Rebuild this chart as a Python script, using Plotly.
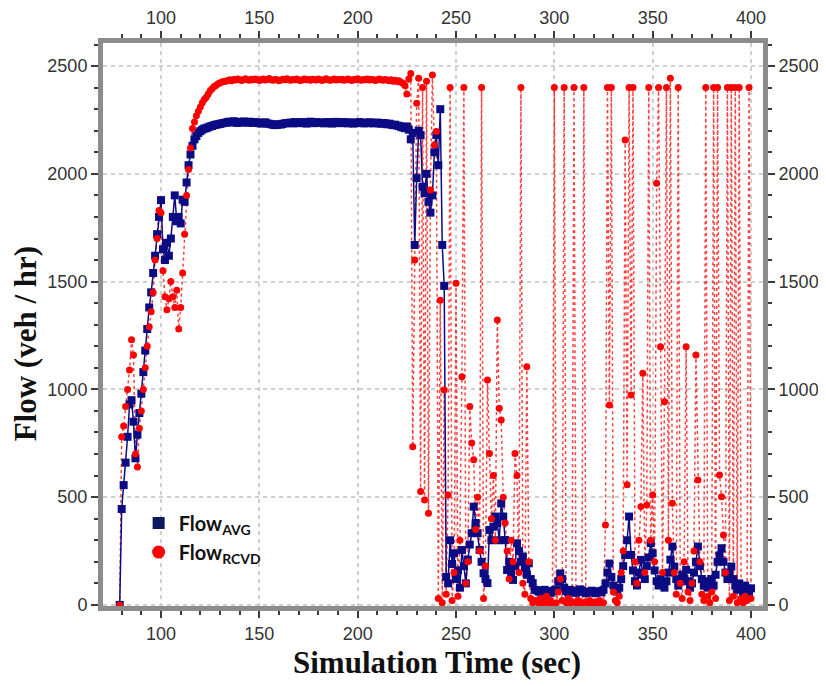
import plotly.graph_objects as go

# ---------------- data ----------------
t_start = 79
t_end = 400
time_sec = list(range(t_start, t_end + 1))

flow_avg = [
    # 79-88
    0, 445, 556, 660, 780, 930, 950, 850, 680, 790,
    # 89-98
    890, 980, 1080, 1180, 1280, 1380, 1450, 1540, 1620, 1720,
    # 99-108
    1800, 1878, 1650, 1600, 1680, 1620, 1700, 1800, 1900, 1780,
    # 109-118
    1800, 1770, 1880, 1870, 1960, 2040, 2090, 2130, 2160, 2175,
    # 119-128
    2190, 2198, 2205, 2210, 2212, 2216, 2220, 2222, 2226, 2228,
    # 129-130
    2230, 2232,
    # 131-220
    2234, 2236, 2238, 2240, 2242, 2238, 2244, 2240, 2236, 2241,
    2238, 2243, 2240, 2237, 2242, 2239, 2236, 2240, 2238, 2235,
    2233, 2237, 2239, 2234, 2232, 2230, 2228, 2226, 2228, 2230,
    2229, 2232, 2234, 2236, 2236, 2238, 2234, 2240, 2237, 2235,
    2238, 2240, 2236, 2233, 2239, 2242, 2238, 2235, 2240, 2237,
    2236, 2239, 2234, 2238, 2240, 2236, 2233, 2238, 2241, 2237,
    2235, 2238, 2240, 2236, 2234, 2239, 2237, 2233, 2236, 2238,
    2240, 2236, 2234, 2238, 2235, 2239, 2237, 2234, 2236, 2238,
    2235, 2232, 2236, 2234, 2230, 2233, 2229, 2226, 2228, 2224,
    # 221-224
    2222, 2218, 2215, 2212,
    # 225-244
    2220, 2205, 2160, 2190, 1670, 1980, 2200, 2180, 1940, 1910,
    2000, 1870, 1820, 1900, 2100, 2180, 2040, 2300, 1670, 1480,
    # 245-290
    130, 100, 300, 190, 240, 120, 160, 80, 255, 180,
    100, 210, 280, 333, 456, 380, 333, 255, 200, 147,
    120, 101, 348, 300, 363, 410, 380, 300, 471, 410,
    301, 162, 200, 150, 116, 180, 286, 250, 200, 224,
    170, 140, 193, 120, 101, 70,
    # 291-400
    68, 62, 58, 66, 70, 64, 60, 56, 62, 68,
    72, 110, 146, 120, 80, 64, 58, 70, 66, 60,
    56, 64, 72, 68, 60, 54, 58, 62, 66, 58,
    54, 60, 64, 58, 70, 100, 150, 192, 130, 90,
    70, 62, 80, 120, 180, 232, 300, 410, 232, 160,
    110, 90, 150, 209, 140, 120, 180, 220, 287, 240,
    160, 110, 90, 120, 100, 80, 110, 150, 210, 271,
    178, 120, 90, 110, 140, 120, 163, 110, 80, 100,
    150, 200, 271, 180, 120, 90, 110, 80, 100, 120,
    90, 140, 200, 230, 263, 200, 150, 120, 140, 178,
    120, 90, 70, 100, 80, 60, 90, 70, 60, 77,
]

flow_rcvd = [
    # 79-88
    0, 780, 830, 920, 1000, 1090, 1230, 1160, 700, 640,
    # 89-98
    820, 900, 1000, 1100, 1200, 1290, 1360, 1450, 1600, 1700,
    # 99-108
    1830, 1820, 1550, 1430, 1370, 1420, 1500, 1430, 1380, 1460,
    # 109-118
    1280, 1380, 1540, 1720, 1900, 2020, 2120, 2210, 2240, 2270,
    # 119-128
    2290, 2310, 2330, 2345, 2355, 2370, 2385, 2395, 2405, 2410,
    # 129-130
    2418, 2422,
    # 131-220
    2426, 2428, 2430, 2433, 2436, 2432, 2438, 2435, 2440, 2436,
    2433, 2438, 2441, 2436, 2434, 2439, 2436, 2440, 2437, 2433,
    2436, 2440, 2435, 2438, 2442, 2437, 2434, 2438, 2436, 2432,
    2435, 2439, 2436, 2441, 2437, 2434, 2438, 2436, 2440, 2435,
    2433, 2437, 2440, 2436, 2438, 2434, 2439, 2437, 2435, 2440,
    2436, 2433, 2438, 2441, 2436, 2434, 2437, 2440, 2435, 2438,
    2436, 2439, 2434, 2437, 2440, 2436, 2433, 2438, 2436, 2441,
    2437, 2434, 2438, 2436, 2440, 2435, 2438, 2436, 2433, 2437,
    2440, 2436, 2434, 2438, 2435, 2432, 2436, 2430, 2434, 2428,
    # 221-224
    2432, 2425, 2420, 2410,
    # 225-244
    2370, 2440, 2466, 734, 1600, 2327, 2443, 526, 2400, 487,
    2430, 425, 1925, 2458, 2134, 2196, 30, 1414, 10, 997,
    # 245-290
    50, 510, 2400, 20, 150, 1492, 40, 300, 1059, 2400,
    100, 200, 921, 751, 673, 350, 500, 250, 2400, 30,
    180, 1043, 703, 400, 600, 300, 1322, 912, 858, 500,
    380, 250, 120, 300, 200, 703, 600, 150, 2400, 100,
    50, 1105, 200, 30, 10, 20,
    # 291-400
    20, 10, 30, 5, 15, 40, 10, 20, 5, 2400,
    10, 60, 120, 20, 2400, 10, 30, 5, 15, 2400,
    10, 20, 5, 10, 2400, 15, 5, 20, 10, 5,
    15, 10, 20, 5, 10, 371, 2400, 928, 2400, 60,
    20, 10, 40, 150, 250, 2157, 557, 2400, 974, 2400,
    200, 100, 300, 456, 1075, 150, 464, 2400, 300, 510,
    200, 1956, 2400, 1198, 150, 943, 2400, 300, 2443, 472,
    150, 50, 2400, 100, 30, 200, 1198, 60, 20, 100,
    250, 1160, 580, 200, 50, 20, 2400, 40, 10, 60,
    2400, 30, 2400, 603, 502, 324, 150, 2400, 20, 2400,
    40, 2400, 10, 2400, 30, 10, 40, 20, 2400, 30,
]

x_tick_vals = [100, 150, 200, 250, 300, 350, 400]
y_tick_vals = [0, 500, 1000, 1500, 2000, 2500]

# ---------------- figure ----------------
NAVY = "#0b0b84"
RED = "#ff0000"

fig = go.Figure()

# red dotted connecting lines
fig.add_trace(go.Scatter(
    x=time_sec, y=flow_rcvd, mode="lines",
    line=dict(color="rgba(255,0,0,0.75)", width=1.5, dash="dot"),
    showlegend=False, hoverinfo="skip"))

# blue series
fig.add_trace(go.Scatter(
    x=time_sec, y=flow_avg, mode="lines+markers",
    line=dict(color=NAVY, width=1.5),
    marker=dict(symbol="square", size=8, color=NAVY),
    showlegend=False))

# red markers
fig.add_trace(go.Scatter(
    x=time_sec, y=flow_rcvd, mode="markers",
    marker=dict(symbol="circle", size=7, color=RED),
    showlegend=False))

# legend entries (markers only)
fig.add_trace(go.Scatter(
    x=[None], y=[None], mode="markers",
    marker=dict(symbol="square", size=12, color="#0d1b5e"),
    name="<b>Flow<sub>AVG</sub></b>"))
fig.add_trace(go.Scatter(
    x=[None], y=[None], mode="markers",
    marker=dict(symbol="circle", size=13, color=RED),
    name="<b>Flow<sub>RCVD</sub></b>"))

X_RANGE = [70.5, 406.1]
Y_RANGE = [-5, 2607]
BORDER = "#8c8c8c"
TICKC = "#3a3a3a"
tickfont = dict(family="Liberation Sans, Arial, sans-serif", size=18, color="#333333")

common_x = dict(range=X_RANGE, tickvals=x_tick_vals, ticks="outside", ticklen=7,
                tickwidth=1.5, tickcolor=TICKC, showline=True, linewidth=5,
                linecolor=BORDER, tickfont=tickfont, zeroline=False, automargin=False,
                minor=dict(dtick=10, tick0=0, ticks="outside", ticklen=4,
                           tickwidth=1.5, tickcolor=TICKC, showgrid=False))
common_y = dict(range=Y_RANGE, tickvals=y_tick_vals, ticks="outside", ticklen=7,
                tickwidth=1.5, tickcolor=TICKC, showline=True, linewidth=5,
                linecolor=BORDER, tickfont=tickfont, zeroline=False, automargin=False,
                minor=dict(dtick=100, tick0=0, ticks="outside", ticklen=4,
                           tickwidth=1.5, tickcolor=TICKC, showgrid=False))

fig.update_layout(
    width=818, height=678,
    margin=dict(l=95, r=63, t=35, b=80, autoexpand=False),
    paper_bgcolor="white", plot_bgcolor="white",
    xaxis=dict(**common_x, showgrid=True, gridcolor="#cfcfcf", gridwidth=1.5,
               griddash="4px,4px"),
    yaxis=dict(**common_y, showgrid=True, gridcolor="#cfcfcf", gridwidth=1.5,
               griddash="4px,4px"),
    xaxis2=dict(**common_x, overlaying="x", side="top", anchor="y", showgrid=False),
    yaxis2=dict(**common_y, overlaying="y", side="right", anchor="x", showgrid=False),
    showlegend=True,
    legend=dict(x=0.054, y=0.182, xanchor="left", yanchor="top",
                bgcolor="rgba(0,0,0,0)",
                font=dict(family="Lato, Open Sans, sans-serif", size=20, color="#111111"),
                itemsizing="trace", tracegroupgap=2),
    annotations=[
        dict(text="<b>Simulation Time (sec)</b>", xref="paper", yref="paper",
             x=0.506, y=-0.101, xanchor="center", yanchor="middle", showarrow=False,
             font=dict(family="Liberation Serif, Times New Roman, serif", size=31, color="#111111")),
        dict(text="<b>Flow (veh / hr)</b>", xref="paper", yref="paper",
             x=-0.118, y=0.465, xanchor="center", yanchor="middle", showarrow=False,
             textangle=-90,
             font=dict(family="Liberation Serif, Times New Roman, serif", size=31, color="#111111")),
    ],
)

# dummy invisible traces so the secondary axes are rendered
fig.add_trace(go.Scatter(x=[None], y=[None], xaxis="x2", yaxis="y2",
                         showlegend=False, hoverinfo="skip"))

fig.write_html("out.html")
